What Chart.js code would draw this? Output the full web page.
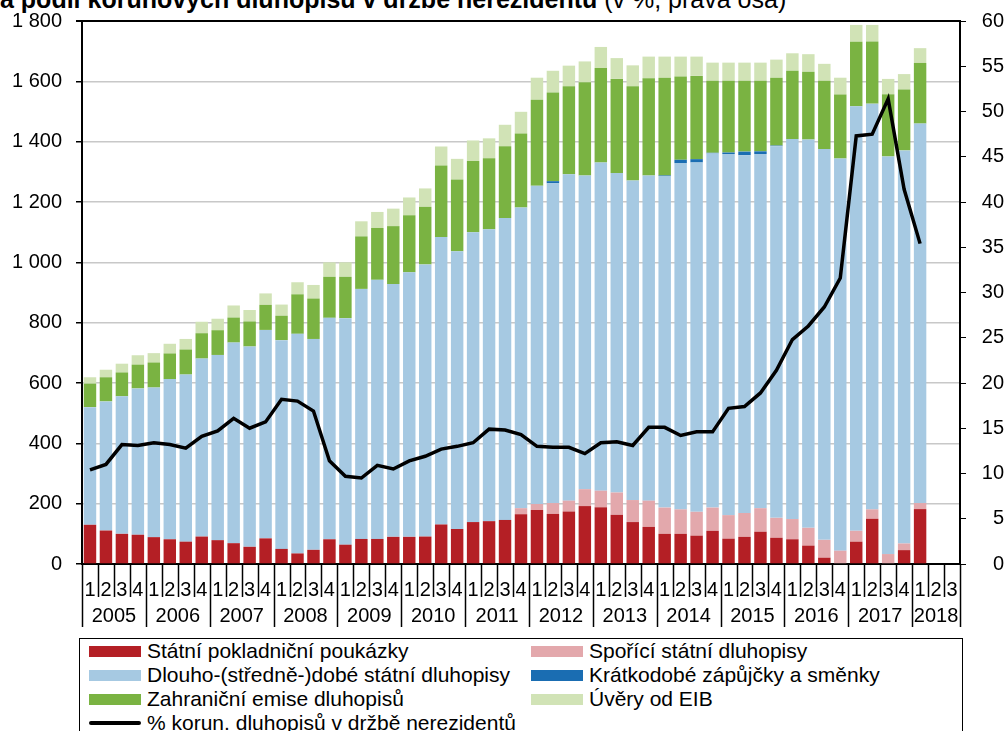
<!DOCTYPE html>
<html>
<head>
<meta charset="utf-8">
<script src="https://cdn.jsdelivr.net/npm/chart.js@4"></script>
<style>
  body { margin: 0; width: 1004px; height: 731px; overflow: hidden; background: #fff; position: relative; font-family: "Liberation Sans", Arial, sans-serif; }
  #chart { position: absolute; left: 0; top: -5px; }
  .title { position: absolute; left: 0; top: -13px; font-size: 25px; line-height: 25px; white-space: nowrap; color: #000; }
  .title b { font-weight: bold; }
  .legend { position: absolute; left: 79px; top: 638px; width: 884px; height: 110px; border: 1px solid #000; box-sizing: border-box; background: #fff; }
  .item { position: absolute; font-size: 21px; line-height: 24px; white-space: nowrap; color: #000; }
  .sw { position: absolute; left: -58px; top: 7px; width: 52px; height: 11px; }
  .sw.line { top: 10px; height: 4px; border-radius: 2px; }
</style>
</head>
<body>
<div class="title"><b>a podíl korunových dluhopisů v držbě nerezidentů</b> (v %, pravá osa)</div>
<canvas id="chart" width="1004" height="736"></canvas>
<div class="legend" id="legend"></div>
<script>
// --- data (mld. Kč, kvartály 2005Q1 - 2018Q1) ---
const years = ['2005', '2006', '2007', '2008', '2009', '2010', '2011', '2012', '2013', '2014', '2015', '2016', '2017', '2018'];
const quarterCounts = [4, 4, 4, 4, 4, 4, 4, 4, 4, 4, 4, 4, 4, 3];
const quarterLabels = [];
quarterCounts.forEach(n => { for (let q = 1; q <= n; q++) quarterLabels.push(String(q)); });

const pokladniPoukazky = [130, 111, 100, 97, 89, 82, 74, 91, 79, 69, 57, 85, 50, 35, 47, 82, 64, 83, 83, 90,
  90, 91, 131, 116, 139, 142, 146, 165, 179, 166, 174, 192, 188, 163, 139, 123, 100, 100, 94, 110,
  84, 90, 107, 87, 82, 61, 21, 0, 74, 150, 0, 46, 182];
const sporiciDluhopisy = [0, 0, 0, 0, 0, 0, 0, 0, 0, 0, 0, 0, 0, 0, 0, 0, 0, 0, 0, 0,
  0, 0, 0, 0, 0, 0, 0, 20, 20, 36, 36, 56, 55, 74, 73, 87, 87, 81, 79, 77,
  78, 79, 78, 66, 67, 59, 59, 44, 36, 31, 33, 22, 20];
const dlouhodobeDluhopisy = [390, 428, 456, 485, 496, 531, 554, 590, 614, 665, 664, 691, 692, 728, 699, 734, 751, 829, 859, 838,
  877, 902, 953, 921, 961, 968, 1001, 997, 1055, 1060, 1082, 1040, 1088, 1059, 1059, 1078, 1099, 1148, 1158, 1174,
  1197, 1186, 1174, 1232, 1260, 1287, 1296, 1300, 1407, 1345, 1318, 1303, 1258];
const kratkodobeZapujcky = [0, 0, 0, 0, 0, 0, 0, 0, 0, 0, 0, 0, 0, 0, 0, 0, 0, 0, 0, 0,
  0, 0, 0, 0, 0, 0, 0, 0, 0, 7, 0, 0, 0, 0, 0, 0, 2, 11, 11, 2,
  5, 12, 9, 2, 0, 0, 0, 0, 0, 0, 0, 0, 0];
const zahranicniEmise = [78, 80, 79, 79, 83, 85, 83, 84, 82, 83, 83, 83, 81, 131, 134, 136, 137, 174, 172, 192,
  189, 191, 237, 238, 236, 235, 238, 245, 285, 294, 292, 309, 313, 312, 313, 322, 324, 276, 276, 239,
  238, 235, 234, 225, 226, 225, 226, 212, 214, 206, 206, 202, 201];
const uveryEIB = [21, 25, 29, 31, 31, 32, 35, 38, 38, 40, 38, 38, 37, 40, 45, 48, 48, 50, 53, 58,
  59, 61, 63, 68, 68, 66, 71, 72, 73, 72, 68, 69, 70, 69, 69, 72, 70, 66, 64, 60,
  60, 60, 60, 60, 58, 58, 56, 56, 56, 55, 51, 51, 49];
// % korunových dluhopisů v držbě nerezidentů (pravá osa)
const podilNerezidentu = [10.4, 11.0, 13.2, 13.1, 13.4, 13.2, 12.8, 14.1, 14.7, 16.1, 15.0, 15.7, 18.2, 18.0, 16.9, 11.4, 9.7, 9.5, 10.9, 10.5,
  11.4, 11.9, 12.7, 13.0, 13.4, 14.9, 14.8, 14.3, 13.0, 12.9, 12.9, 12.2, 13.4, 13.5, 13.1, 15.1, 15.1, 14.2, 14.6, 14.6,
  17.2, 17.4, 18.9, 21.4, 24.8, 26.3, 28.4, 31.6, 47.3, 47.5, 51.4, 41.4, 35.4, null, null];

const FONT = { family: '"Liberation Sans", Arial, sans-serif', size: 20 };
const GRID = '#c8c8c8';

const barSets = [
  { label: 'Státní pokladniční poukázky', data: pokladniPoukazky, color: '#b41f25' },
  { label: 'Spořící státní dluhopisy', data: sporiciDluhopisy, color: '#e3a8ac' },
  { label: 'Dlouho-(středně-)dobé státní dluhopisy', data: dlouhodobeDluhopisy, color: '#a6c9e2' },
  { label: 'Krátkodobé zápůjčky a směnky', data: kratkodobeZapujcky, color: '#1a6db2' },
  { label: 'Zahraniční emise dluhopisů', data: zahranicniEmise, color: '#7ab342' },
  { label: 'Úvěry od EIB', data: uveryEIB, color: '#d1e3b6' }
];

// roky a oddělovače pod osou x
const yearAxis = {
  id: 'yearAxis',
  afterDraw(chart) {
    const x = chart.scales.x;
    const c = chart.ctx;
    const step = x.getPixelForValue(1) - x.getPixelForValue(0);
    c.save();
    c.strokeStyle = '#000';
    c.lineWidth = 1.5;
    for (let i = 0; i <= quarterLabels.length; i++) {
      const px = Math.round(x.getPixelForValue(i) - step / 2) + 0.5;
      const yearEdge = i === 0 || i === quarterLabels.length || quarterLabels[i] === '1';
      c.beginPath();
      c.moveTo(px, x.top);
      c.lineTo(px, x.top + (yearEdge ? 63 : 33));
      c.stroke();
    }
    c.fillStyle = '#000';
    c.font = FONT.size + 'px ' + FONT.family;
    c.textAlign = 'center';
    c.textBaseline = 'middle';
    let start = 0;
    years.forEach((yr, k) => {
      const n = quarterCounts[k];
      const mid = (x.getPixelForValue(start) + x.getPixelForValue(start + n - 1)) / 2;
      c.fillText(yr, mid, x.top + 52);
      start += n;
    });
    c.restore();
  }
};

const datasets = barSets.map(s => ({
  type: 'bar',
  label: s.label,
  data: s.data,
  backgroundColor: s.color,
  borderWidth: 0,
  barPercentage: 0.78,
  categoryPercentage: 1,
  yAxisID: 'y',
  order: 1
}));
datasets.push({
  type: 'line',
  label: '% korun. dluhopisů v držbě nerezidentů',
  data: podilNerezidentu,
  borderColor: '#000',
  borderWidth: 3.5,
  pointRadius: 0,
  tension: 0,
  yAxisID: 'y2',
  order: 0
});

new Chart(document.getElementById('chart'), {
  data: { labels: quarterLabels, datasets: datasets },
  options: {
    responsive: false,
    animation: false,
    devicePixelRatio: 1,
    layout: { padding: { top: 15, left: 0, right: 0, bottom: 0 } },
    plugins: { legend: { display: false }, tooltip: { enabled: false } },
    scales: {
      x: {
        stacked: true,
        grid: { display: false },
        border: { display: true, color: '#000', width: 2 },
        ticks: { autoSkip: false, maxRotation: 0, padding: 6, color: '#000', font: FONT },
        afterFit: s => { s.height = 167; }
      },
      y: {
        stacked: true,
        position: 'left',
        min: 0,
        max: 1800,
        grid: {
          color: c => (c.tick && c.tick.value === 1800 ? '#000' : GRID),
          lineWidth: c => (c.tick && c.tick.value === 1800 ? 2 : 1.5),
          tickColor: '#000',
          tickLength: 6
        },
        border: { display: true, color: '#000', width: 2 },
        ticks: {
          stepSize: 200,
          padding: 14,
          color: '#000',
          font: FONT,
          callback: v => String(v).replace(/\B(?=(\d{3})+(?!\d))/g, ' ')
        },
        afterFit: s => { s.width = 82; }
      },
      y2: {
        position: 'right',
        min: 0,
        max: 60,
        grid: { drawOnChartArea: false, tickColor: '#000', tickLength: 6 },
        border: { display: true, color: '#000', width: 2 },
        ticks: { stepSize: 5, padding: 12, crossAlign: 'far', color: '#000', font: FONT },
        afterFit: s => { s.width = 44; }
      }
    }
  },
  plugins: [yearAxis]
});

// legenda ve dvou sloupcích
const legendBox = document.getElementById('legend');
const legendOrder = [[0, 1], [2, 3], [4, 5], [6]];
legendOrder.forEach((row, r) => {
  row.forEach((idx, col) => {
    const ds = datasets[idx];
    const item = document.createElement('div');
    item.className = 'item';
    item.style.left = (col === 0 ? 67 : 509) + 'px';
    item.style.top = (r * 24) + 'px';
    const sw = document.createElement('span');
    sw.className = ds.type === 'line' ? 'sw line' : 'sw';
    sw.style.background = ds.type === 'line' ? ds.borderColor : ds.backgroundColor;
    item.appendChild(sw);
    item.appendChild(document.createTextNode(ds.label));
    legendBox.appendChild(item);
  });
});
</script>
</body>
</html>
